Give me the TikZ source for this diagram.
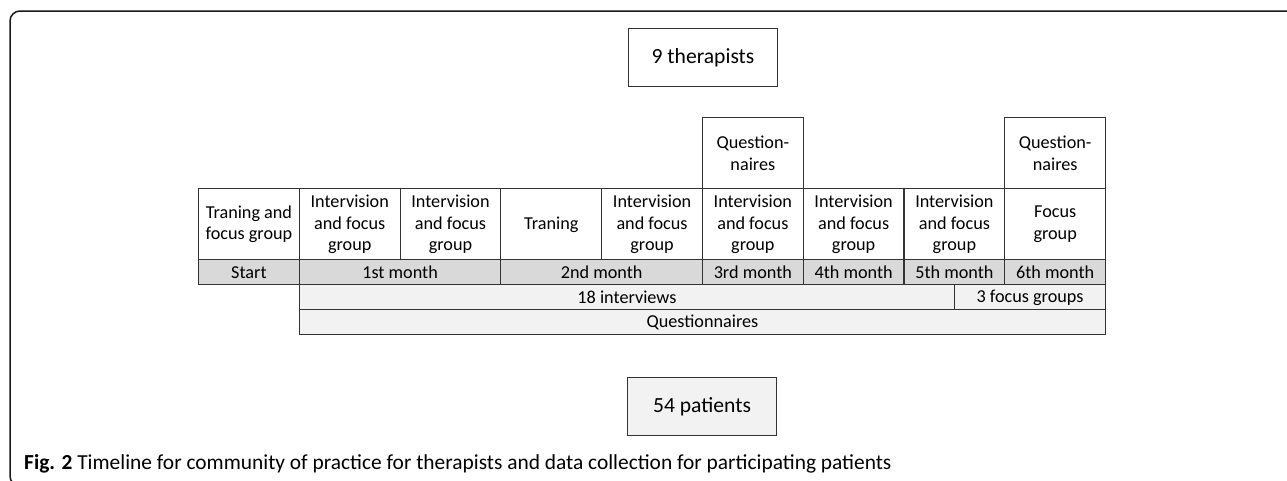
\documentclass[tikz,border=0pt]{standalone}
\usepackage{fontspec}
\setmainfont{Carlito}
\newcommand{\tabfont}{\fontsize{18.2}{21.7}\selectfont}
\newcommand{\boxfont}{\fontsize{21.6}{24}\selectfont}
\newcommand{\capfont}{\fontsize{21.4}{24}\selectfont}
\definecolor{monthgray}{HTML}{D9D9D9}
\definecolor{paleGray}{HTML}{F2F2F2}
\definecolor{edge}{HTML}{333333}
\tikzset{
  cell/.style={draw=edge, line width=1.1pt, inner sep=0pt, anchor=north west,
    align=center, font=\tabfont, minimum width=100.78pt},
  tall/.style={cell, minimum height=71pt},
  strip/.style={cell, minimum height=25pt},
  monthcell/.style={strip, fill=monthgray},
  datacell/.style={strip, fill=paleGray},
  countbox/.style={draw=edge, line width=1.1pt, font=\boxfont,
    minimum width=149pt, minimum height=58pt, inner sep=0pt},
  frame/.style={draw=black!90, line width=1.5pt}
}
\begin{document}
\begin{tikzpicture}[x=1pt,y=-1pt]
\useasboundingbox (0,0) rectangle (1287,480);

% outer frame, open to the right and bottom
\draw[frame, rounded corners=10pt] (1290,11) -- (10,11) -- (10,486) -- (30,486);

% participant counts
\node[countbox, fill=white] (ther) at (703,57.5) {9 therapists};
\node[countbox, fill=paleGray] (pat) at (702,406.5) {54 patients};

% questionnaires on top of the 3rd and 6th month
\node[tall] (q3) at (701.9,117.3) {Question-\\naires};
\node[tall] (q6) at (1004.24,117.3) {Question-\\naires};

% activities per period
\node[tall] (a0) at (198,188.3) {Traning and\\focus group};
\node[tall] (a1) at (298.78,188.3) {Intervision\\and focus\\group};
\node[tall] (a2) at (399.56,188.3) {Intervision\\and focus\\group};
\node[tall] (a3) at (500.34,188.3) {Traning};
\node[tall] (a4) at (601.12,188.3) {Intervision\\and focus\\group};
\node[tall] (a5) at (701.9,188.3) {Intervision\\and focus\\group};
\node[tall] (a6) at (802.68,188.3) {Intervision\\and focus\\group};
\node[tall] (a7) at (903.46,188.3) {Intervision\\and focus\\group};
\node[tall] (a8) at (1004.24,188.3) {Focus\\group};

% months
\node[monthcell] (m0) at (198,259.3) {Start};
\node[monthcell, minimum width=201.56pt] (m1) at (298.78,259.3) {1st month};
\node[monthcell, minimum width=201.56pt] (m2) at (500.34,259.3) {2nd month};
\node[monthcell] (m3) at (701.9,259.3) {3rd month};
\node[monthcell] (m4) at (802.68,259.3) {4th month};
\node[monthcell] (m5) at (903.46,259.3) {5th month};
\node[monthcell] (m6) at (1004.24,259.3) {6th month};

% patient data collection
\node[datacell, minimum width=655.2pt] (iv) at (298.78,284.3) {18 interviews};
\node[datacell, minimum width=151.04pt] (fg) at (953.98,284.3) {3 focus groups};
\node[datacell, minimum width=806.24pt] (qs) at (298.78,309.3) {Questionnaires};

% caption
\node[anchor=base west, inner sep=0pt, font=\capfont] (cap) at (24,469)
  {\textbf{Fig. 2} Timeline for community of practice for therapists and data collection for participating patients};
\end{tikzpicture}
\end{document}
